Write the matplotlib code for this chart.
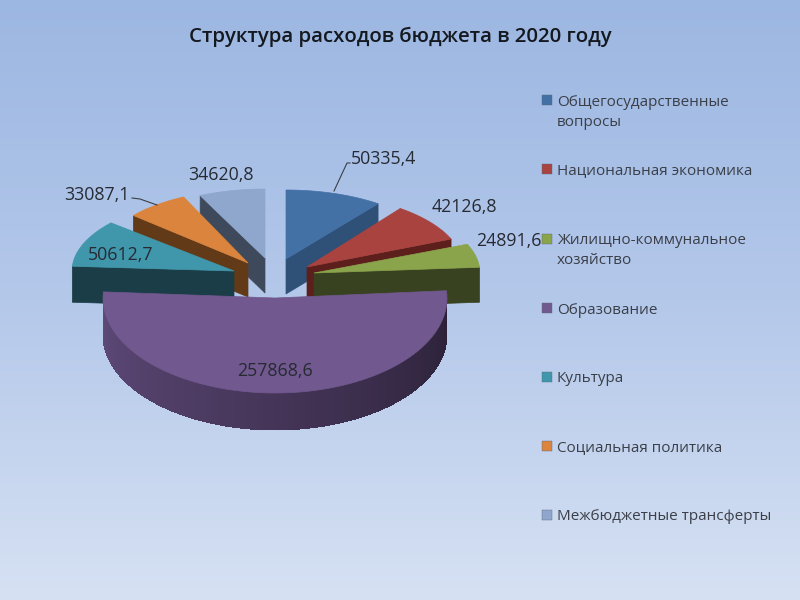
import numpy as np
import matplotlib
matplotlib.use("Agg")
import matplotlib.pyplot as plt
from matplotlib.colors import LinearSegmentedColormap, to_rgb

plt.rcParams['font.family'] = ['Open Sans', 'DejaVu Sans']

title = "Структура расходов бюджета в 2020 году"
categories = ["Общегосударственные\nвопросы", "Национальная экономика",
              "Жилищно-коммунальное\nхозяйство", "Образование", "Культура",
              "Социальная политика", "Межбюджетные трансферты"]
values = [50335.4, 42126.8, 24891.6, 257868.6, 50612.7, 33087.1, 34620.8]

top_colors = ["#4371a6", "#a8433f", "#8aa44c", "#71588f", "#4097ab", "#db843d", "#8fa7cc"]
side_colors = ["#2f5077", "#5c1f1c", "#394220", "#5f4a7a", "#1b3d47", "#623a18", "#3e4a5b"]

# apex of each slice in pixels, radii, depth (exploded slices in fake 3d)
apex = [(286, 259), (307, 267), (314, 273), (275, 298), (234, 271), (248, 263), (265, 258)]
radii = [(154, 69), (156, 73), (166, 75), (172, 95), (162, 74), (151, 73), (152, 69)]
depth = [35, 34, 35, 37, 36, 34, 35]
# which radial edge shows its wall: 0 start, 1 end, None nothing
wall_edge = [1, 1, 1, None, 0, 0, 0]
draw_order = [6, 0, 5, 1, 4, 2, 3]

label_pos = [(384, 159), (464, 207), (509, 241), (275, 371), (121, 255), (97, 195), (221, 175)]
legend_y = [101, 170, 240, 309, 378, 447, 516]

fig = plt.figure(figsize=(8, 6), dpi=100)
ax = fig.add_axes([0, 0, 1, 1])
ax.set_xlim(0, 800)
ax.set_ylim(600, 0)
ax.axis('off')

# background gradient
bg = LinearSegmentedColormap.from_list("bg", ["#9cb7e2", "#b4c8ea", "#d6e1f3"])
ax.imshow(np.linspace(0, 1, 256).reshape(-1, 1), cmap=bg, extent=[0, 800, 600, 0],
          aspect='auto', zorder=0)

# angles clockwise from 12 o'clock
total = sum(values)
edges = np.concatenate([[0], np.cumsum(values)]) / total * 2 * np.pi


def rim(i, t):
    return apex[i][0] + radii[i][0] * np.sin(t), apex[i][1] - radii[i][1] * np.cos(t)


z = 2
for i in draw_order:
    a0, a1 = edges[i], edges[i + 1]
    cx, cy = apex[i]
    d = depth[i]

    if wall_edge[i] is not None:
        t = a0 if wall_edge[i] == 0 else a1
        ex, ey = rim(i, t)
        ax.fill([cx, ex, ex, cx], [cy, ey, ey + d, cy + d], color=side_colors[i], lw=0.5, zorder=z)

    # outer wall only for the part facing the viewer
    lo, hi = max(a0, np.pi / 2), min(a1, 3 * np.pi / 2)
    if hi > lo:
        ts = np.linspace(lo, hi, 91)
        c_left = np.array(to_rgb("#2a2036"))
        c_right = np.array(to_rgb(side_colors[i]))
        # each strip overlaps the next so no seams show
        for k in range(len(ts) - 1):
            xs, ys = rim(i, ts[k:k + 3])
            f = k / (len(ts) - 2)
            col = c_left * (1 - f) + c_right * f
            ax.fill(np.r_[xs, xs[::-1]], np.r_[ys, ys[::-1] + d], facecolor=col,
                    edgecolor='none', antialiased=False, zorder=z)

    ts = np.linspace(a0, a1, 80)
    xs, ys = rim(i, ts)
    ax.fill(np.r_[cx, xs], np.r_[cy, ys], color=top_colors[i], lw=0.5, zorder=z + 0.5)
    z += 1

# data labels
for v, (lx, ly) in zip(values, label_pos):
    ax.text(lx, ly, f"{v:.1f}".replace('.', ','), ha='center', va='center',
            fontsize=12.8, color="#262a33", zorder=20)

# leader lines
ax.plot([334, 347, 350], [191, 163, 163], color="#3a3f48", lw=0.8, zorder=20)
ax.plot([132, 140, 157], [198, 199, 205], color="#3a3f48", lw=0.8, zorder=20)

# legend
for name, col, ly in zip(categories, top_colors, legend_y):
    ax.scatter([547], [ly - 1], marker='s', s=62, color=col, edgecolors="#5a6a80", linewidths=0.3, zorder=20)
    for n, line in enumerate(name.split("\n")):
        ax.text(557, ly + 1 + n * 20, line, ha='left', va='center', fontsize=11.0,
                color="#3a3f48", zorder=20)

ax.text(400, 37, title, ha='center', va='center', fontsize=14.7, fontweight='semibold',
        color="#14181f", zorder=20)

fig.savefig("out.png", dpi=100)
